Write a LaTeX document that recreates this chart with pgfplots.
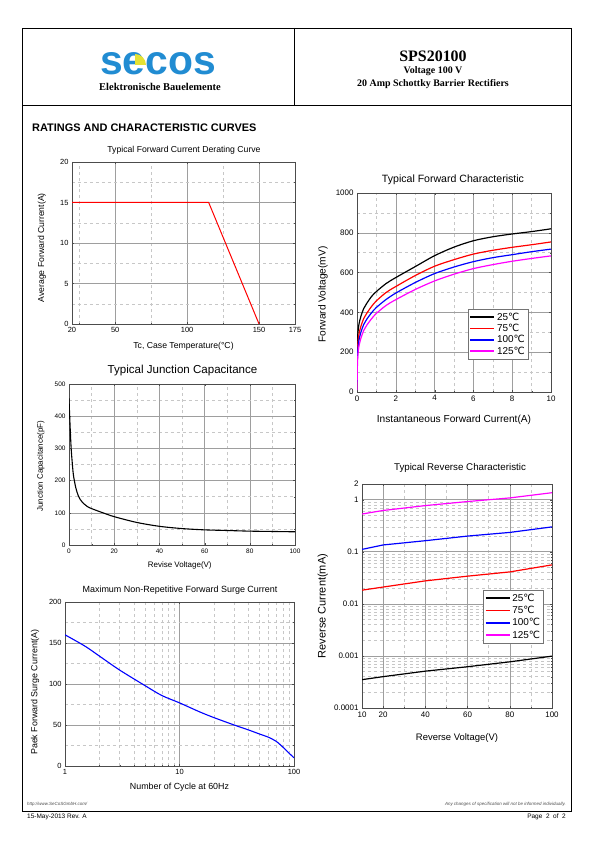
\documentclass[border=0pt]{standalone}
\usepackage{pgfplots}
\pgfplotsset{compat=1.18}
\usepackage{fontspec}
\setmainfont{Liberation Sans}
\newfontfamily\timesfont{Liberation Serif}
\newfontfamily\dejavu{DejaVu Sans}
\newcommand{\dC}{{\dejavu ℃}}
\definecolor{logoblue}{RGB}{33,140,210}
\definecolor{logoyellow}{RGB}{228,226,52}
\definecolor{mag}{RGB}{255,0,255}
\newcommand{\fs}[1]{\fontsize{#1}{#1}\selectfont}
\pgfplotsset{
  dsbase/.style={
    scale only axis, anchor=south west,
    axis line style={black!70},
    grid=both,
    major grid style={black!38, line width=0.5pt},
    minor grid style={black!22, dashed, line width=0.4pt},
    tick style={black!70},
    tick align=inside,
    major tick length=2pt, minor tick length=1.2pt,
    /pgf/number format/assume math mode=true,
    /pgf/number format/1000 sep={},
    scaled ticks=false,
    legend cell align=left,
  },
  thickgrid/.style={grid style={black!18, line width=1.8pt}},
  dslegend/.style={legend image code/.code={\draw[mark repeat=2,mark phase=2,##1] plot coordinates {(0bp,0bp) (12bp,0bp) (24bp,0bp)};},
    legend image post style={line width=1.6pt}},
}
\begin{document}
\begin{tikzpicture}[x=1bp,y=1bp]
\path[use as bounding box] (0,0) rectangle (595,842);
% frame
\draw[line width=0.8pt] (22,814) rectangle (571,31);
\draw[line width=0.8pt] (22,737) -- (571,737);
\draw[line width=0.8pt] (294,814) -- (294,737);
% logo
\node[anchor=base west, text=logoblue, font=\bfseries\fs{41}, inner sep=0pt, text depth=0pt] at (100,767) {secos};
\fill[logoyellow] (135,777) -- (146,777) arc[start angle=0,end angle=90,radius=11] -- cycle;
\node[font=\timesfont\bfseries\fs{10.5}, inner sep=0pt] at (160,755) {Elektronische Bauelemente};
\node[font=\timesfont\bfseries\fs{16}, inner sep=0pt] at (433,786) {SPS20100};
\node[font=\timesfont\bfseries\fs{10}, inner sep=0pt] at (433,771) {Voltage 100 V};
\node[font=\timesfont\bfseries\fs{10}, inner sep=0pt] at (433,758) {20 Amp Schottky Barrier Rectifiers};
\node[anchor=west, font=\bfseries\fs{11}, inner sep=0pt] at (32,714) {RATINGS AND CHARACTERISTIC CURVES};
% footer
\node[anchor=west, font=\itshape\fs{4.5}, text=black!70, inner sep=0pt] at (27,38) {http://www.SeCoSGmbH.com/};
\node[anchor=east, font=\itshape\fs{4.5}, text=black!70, inner sep=0pt] at (566,38) {Any changes of specification will not be informed individually.};
\node[anchor=west, font=\fs{6.5}, inner sep=0pt] at (27,25) {15-May-2013 Rev. A};
\node[anchor=east, font=\fs{6.5}, inner sep=0pt] at (566,25) {Page\ \ 2\ \ of\ \ 2};

% ---- 1. Derating
\node[font=\fs{8.7}] at (184,692) {Typical Forward Current Derating Curve};
\begin{axis}[dsbase, at={(72bp,518bp)}, width=223bp, height=162bp,
  xmin=20, xmax=175, ymin=0, ymax=20,
  xtick={20,50,100,150,175}, minor xtick={25,75,125},
  ytick={0,5,10,15,20}, minor ytick={2.5,7.5,12.5,17.5},
  tick label style={font=\fs{7.5}},
  xlabel={Tc, Case Temperature(°C)}, ylabel={Average Forward Current(A)},
  label style={font=\fs{8.7}},
  xlabel style={at={(axis description cs:0.5,-0.136)}, anchor=center},
  ylabel style={at={(axis description cs:-0.135,0.47)}, anchor=center},
]
\addplot[red, line width=1pt] coordinates {(20,15) (115,15) (150,0)};
\end{axis}

% ---- 2. Forward characteristic
\node[font=\fs{10.6}] at (453,662) {Typical Forward Characteristic};
\begin{axis}[dsbase, dslegend, at={(357bp,450bp)}, width=194bp, height=199bp,
  xmin=0, xmax=10, ymin=0, ymax=1000,
  xtick={0,2,...,10}, minor x tick num=1,
  ytick={0,200,...,1000}, minor y tick num=1,
  extra x ticks={8}, extra x tick labels={}, extra x tick style={thickgrid},
  extra y ticks={600}, extra y tick labels={}, extra y tick style={thickgrid},
  tick label style={font=\fs{8}},
  xlabel={Instantaneous Forward Current(A)}, ylabel={Forward Voltage(mV)},
  label style={font=\fs{10.2}},
  xlabel style={at={(axis description cs:0.5,-0.141)}, anchor=center},
  ylabel style={at={(axis description cs:-0.175,0.49)}, anchor=center},
  legend style={at={(axis description cs:0.571,0.417)}, anchor=north west,
    draw=black!55, font=\fs{10}, inner sep=1.5pt, row sep=-1.5pt},
]
\addplot[black, line width=1.2pt, smooth, tension=0.5] coordinates {(0,130) (0.02,250) (0.05,300) (0.1,340) (0.2,380) (0.35,420) (0.5,445) (0.75,480) (1,505) (1.5,545) (2,575) (3,630) (4,685) (5,728) (6,760) (7,780) (8,794) (9,806) (10,820)};
\addlegendentry{25\dC}
\addplot[red, line width=1.2pt, smooth, tension=0.5] coordinates {(0,90) (0.02,200) (0.05,250) (0.1,290) (0.2,330) (0.35,370) (0.5,395) (0.75,430) (1,458) (1.5,500) (2,530) (3,585) (4,632) (5,665) (6,693) (7,712) (8,727) (9,740) (10,754)};
\addlegendentry{75\dC}
\addplot[blue, line width=1.2pt, smooth, tension=0.5] coordinates {(0,50) (0.02,170) (0.05,220) (0.1,260) (0.2,300) (0.35,340) (0.5,365) (0.75,398) (1,425) (1.5,465) (2,497) (3,550) (4,595) (5,628) (6,655) (7,675) (8,690) (9,705) (10,718)};
\addlegendentry{100\dC}
\addplot[mag, line width=1.2pt, smooth, tension=0.5] coordinates {(0,10) (0.02,130) (0.05,190) (0.1,230) (0.2,270) (0.35,310) (0.5,335) (0.75,368) (1,395) (1.5,435) (2,464) (3,515) (4,558) (5,592) (6,620) (7,640) (8,657) (9,671) (10,684)};
\addlegendentry{125\dC}
\end{axis}

% ---- 3. Junction capacitance
\node[font=\fs{11.6}] at (182.5,471) {Typical Junction Capacitance};
\begin{axis}[dsbase, at={(69bp,297bp)}, width=226bp, height=161bp,
  xmin=0, xmax=100, ymin=0, ymax=500,
  xtick={0,20,...,100}, minor x tick num=1,
  ytick={0,100,...,500}, minor y tick num=1,
  extra x ticks={40}, extra x tick labels={}, extra x tick style={thickgrid},
  extra y ticks={200}, extra y tick labels={}, extra y tick style={thickgrid},
  tick label style={font=\fs{6.5}},
  xlabel={Revise Voltage(V)}, ylabel={Junction Capacitance(pF)},
  label style={font=\fs{8}},
  xlabel style={at={(axis description cs:0.49,-0.13)}, anchor=center},
  ylabel style={at={(axis description cs:-0.125,0.49)}, anchor=center},
]
\addplot[black, line width=1.1pt, smooth, tension=0.5] coordinates {(0,455) (0.3,400) (0.7,335) (1,295) (1.5,250) (2,215) (3,178) (4,155) (5,141) (6,132) (8,120) (10,113) (15,100) (20,88) (30,70) (40,58) (50,51) (60,47) (70,45) (80,43) (90,42) (100,41)};
\end{axis}

% ---- 4. Surge current
\node[font=\fs{9}] at (180,252) {Maximum Non-Repetitive Forward Surge Current};
\begin{axis}[dsbase, at={(65bp,76bp)}, width=229bp, height=164bp,
  xmode=log, xmin=1, xmax=100, ymin=0, ymax=200,
  xtick={1,10,100}, xticklabels={1,10,100},
  ytick={0,50,...,200}, minor y tick num=1,
  extra y ticks={50,100}, extra y tick labels={}, extra y tick style={thickgrid},
  tick label style={font=\fs{7.5}},
  xlabel={Number of Cycle at 60Hz}, ylabel={Paek Forward Surge Current(A)},
  label style={font=\fs{8.9}},
  xlabel style={at={(axis description cs:0.5,-0.128)}, anchor=center},
  ylabel style={at={(axis description cs:-0.131,0.45)}, anchor=center},
]
\addplot[blue, line width=1.1pt, smooth, tension=0.5] coordinates {(1,160) (1.5,146) (2,134) (3,117) (5,98) (7,86) (10,77) (15,66) (20,59) (30,50) (40,44) (50,39) (60,35) (70,30) (80,23) (90,16) (100,10)};
\end{axis}

% ---- 5. Reverse characteristic
\node[font=\fs{9.8}] at (460,374) {Typical Reverse Characteristic};
\begin{axis}[dsbase, dslegend, at={(362bp,134bp)}, width=190bp, height=224bp,
  ymode=log, xmin=10, xmax=100, ymin=0.0001, ymax=2,
  xtick={10,20,40,60,80,100}, minor xtick={30,50,70,90},
  ytick={0.0001,0.001,0.01,0.1,1,2}, yticklabels={0.0001,0.001,0.01,0.1,1,2},
  minor ytick={0.0002,0.0003,0.0004,0.0005,0.0006,0.0007,0.0008,0.0009,0.002,0.003,0.004,0.005,0.006,0.007,0.008,0.009,0.02,0.03,0.04,0.05,0.06,0.07,0.08,0.09,0.2,0.3,0.4,0.5,0.6,0.7,0.8,0.9},
  extra x ticks={60}, extra x tick labels={}, extra x tick style={thickgrid},
  tick label style={font=\fs{8}},
  xlabel={Reverse Voltage(V)}, ylabel={Reverse Current(mA)},
  label style={font=\fs{9.5}},
  xlabel style={at={(axis description cs:0.5,-0.134)}, anchor=center},
  ylabel style={at={(axis description cs:-0.207,0.455)}, anchor=center, font=\fs{11}},
  legend style={at={(axis description cs:0.637,0.527)}, anchor=north west,
    draw=black!55, font=\fs{10}, inner sep=1.5pt, row sep=-0.5pt},
]
\addplot[black, line width=1.2pt] coordinates {(10,0.00035) (20,0.00040) (40,0.00051) (60,0.00062) (80,0.00077) (100,0.00099)};
\addlegendentry{25\dC}
\addplot[red, line width=1.2pt] coordinates {(10,0.0183) (20,0.021) (40,0.0276) (60,0.034) (80,0.041) (100,0.056)};
\addlegendentry{75\dC}
\addplot[blue, line width=1.2pt] coordinates {(10,0.111) (20,0.135) (40,0.163) (60,0.2) (80,0.235) (100,0.30)};
\addlegendentry{100\dC}
\addplot[mag, line width=1.2pt] coordinates {(10,0.53) (20,0.62) (40,0.77) (60,0.92) (80,1.08) (100,1.36)};
\addlegendentry{125\dC}
\end{axis}
\end{tikzpicture}
\end{document}
